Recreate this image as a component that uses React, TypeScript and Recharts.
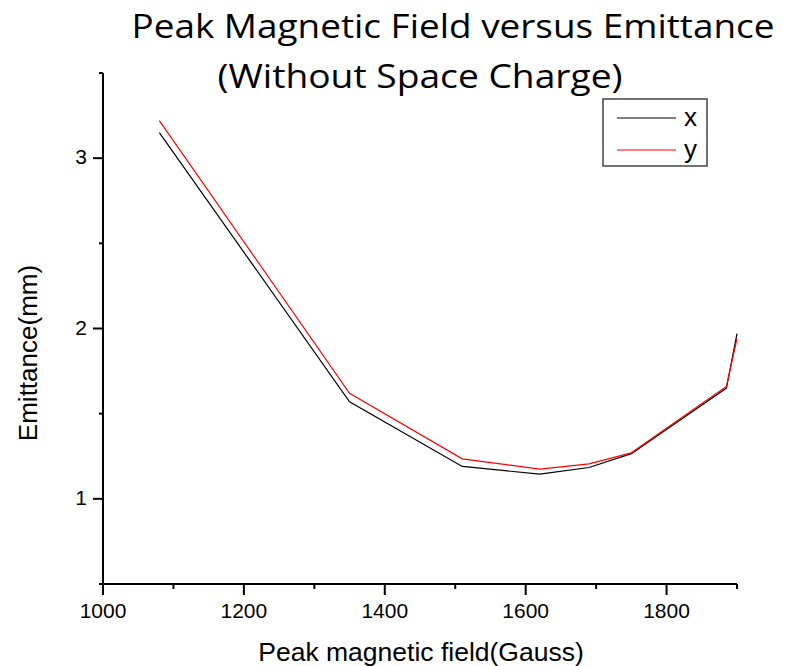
import * as React from 'react'
import { Legend, Line, LineChart, XAxis, YAxis } from 'recharts'

const fields = [1080, 1350, 1510, 1620, 1690, 1750, 1885, 1900]
const emitX = [3.15, 1.57, 1.19, 1.145, 1.184, 1.265, 1.65, 1.97]
const emitY = [3.22, 1.62, 1.235, 1.175, 1.205, 1.27, 1.66, 1.94]

const xTicks = [1000, 1100, 1200, 1300, 1400, 1500, 1600, 1700, 1800, 1900]
const yTicks = [0.5, 1, 1.5, 2, 2.5, 3, 3.5]

const data = fields.map((f, i) => ({ field: f, x: emitX[i], y: emitY[i] }))

const ARIAL = '"Liberation Sans", Arial, sans-serif'
const TITLE_FONT = '"Open Sans", "Noto Sans", sans-serif'

const XTick = (props: any) => {
  const { x, y, payload } = props
  const major = payload.value % 200 === 0
  return (
    <g>
      <line x1={x} y1={y} x2={x} y2={y + (major ? 11 : 5)} stroke="#000" strokeWidth={2} />
      {major && (
        <text x={x} y={y + 34} textAnchor="middle" fontSize={21} fontFamily={ARIAL} fill="#000">
          {payload.value}
        </text>
      )}
    </g>
  )
}

const YTick = (props: any) => {
  const { x, y, payload } = props
  const major = Number.isInteger(payload.value)
  return (
    <g>
      <line x1={x} y1={y} x2={x - (major ? 10 : 4)} y2={y} stroke="#000" strokeWidth={2} />
      {major && (
        <text x={x - 16} y={y + 6} textAnchor="end" fontSize={21} fontFamily={ARIAL} fill="#000">
          {payload.value}
        </text>
      )}
    </g>
  )
}

const renderLegend = (props: any) => {
  const items = props.payload || []
  return (
    <svg width={106} height={70} style={{ display: 'block' }}>
      <rect x={1} y={1} width={104} height={67} fill="#fff" stroke="#444" strokeWidth={1.5} />
      {items.map((it: any, i: number) => (
        <g key={it.value}>
          <line x1={15} y1={20 + i * 32} x2={74} y2={20 + i * 32} stroke={it.color} strokeWidth={1.2} />
          <text x={82} y={28 + i * 32} fontSize={26} fontFamily={ARIAL} fill="#000">
            {it.value}
          </text>
        </g>
      ))}
    </svg>
  )
}

export default function App() {
  return (
    <div style={{ position: 'absolute', left: 0, top: 0, width: 785, height: 666, background: '#fff' }}>
      <LineChart
        width={785}
        height={666}
        data={data}
        margin={{ top: 73, right: 48, left: 43, bottom: 22 }}
      >
        <XAxis
          dataKey="field"
          type="number"
          domain={[1000, 1900]}
          ticks={xTicks}
          interval={0}
          height={60}
          tickSize={0}
          tickMargin={0}
          tickLine={false}
          axisLine={{ stroke: '#000', strokeWidth: 2 }}
          tick={<XTick />}
        />
        <YAxis
          type="number"
          domain={[0.5, 3.5]}
          ticks={yTicks}
          interval={0}
          width={60}
          tickSize={0}
          tickMargin={0}
          tickLine={false}
          axisLine={{ stroke: '#000', strokeWidth: 2 }}
          tick={<YTick />}
        />
        <Legend
          layout="vertical"
          align="center"
          verticalAlign="middle"
          content={renderLegend}
          wrapperStyle={{ left: 602, top: 98, width: 106, height: 70 }}
        />
        <Line dataKey="x" name="x" stroke="#000" strokeWidth={1.2} dot={false} isAnimationActive={false} />
        <Line dataKey="y" name="y" stroke="#ff0000" strokeWidth={1.2} dot={false} isAnimationActive={false} />
      </LineChart>
      <svg
        width={785}
        height={666}
        style={{ position: 'absolute', left: 0, top: 0, pointerEvents: 'none' }}
      >
        <text x={453} y={38} textAnchor="middle" fontSize={32} fontFamily={TITLE_FONT} textLength={643} lengthAdjust="spacingAndGlyphs" fill="#000">
          Peak Magnetic Field versus Emittance
        </text>
        <text x={420} y={88} textAnchor="middle" fontSize={32} fontFamily={TITLE_FONT} textLength={405} lengthAdjust="spacingAndGlyphs" fill="#000">
          (Without Space Charge)
        </text>
        <text x={421} y={661} textAnchor="middle" fontSize={26.5} fontFamily={ARIAL} fill="#000">
          Peak magnetic field(Gauss)
        </text>
        <text x={37} y={353} textAnchor="middle" fontSize={26} fontFamily={ARIAL} fill="#000" transform="rotate(-90, 37, 353)">
          Emittance(mm)
        </text>
      </svg>
    </div>
  )
}
